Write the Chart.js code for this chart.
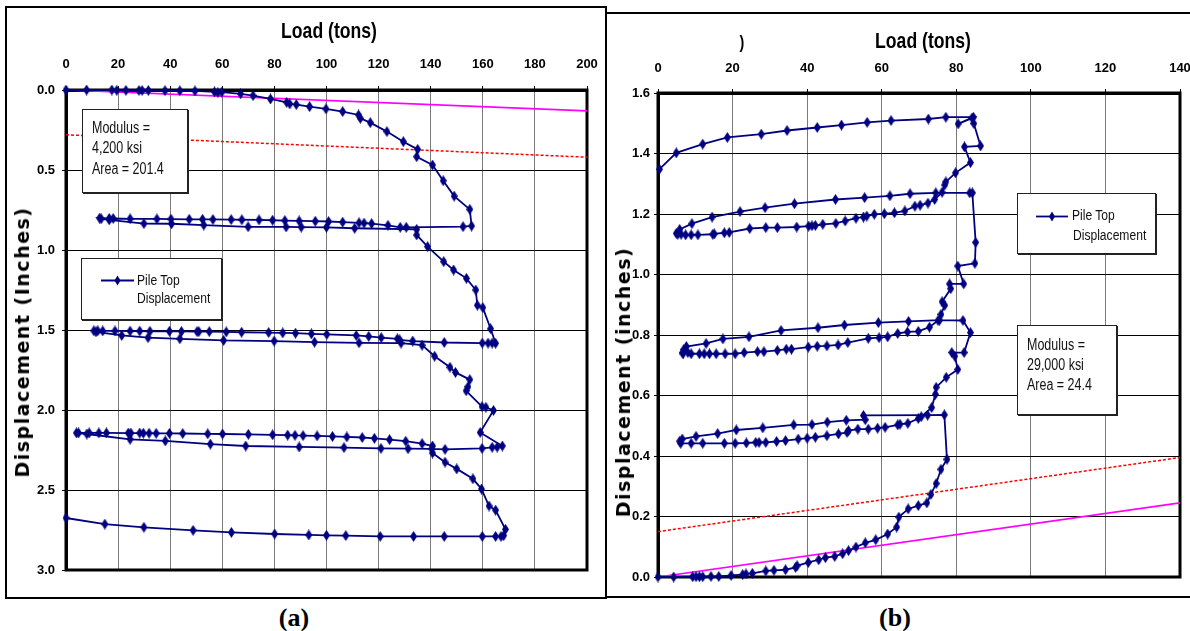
<!DOCTYPE html>
<html>
<head>
<meta charset="utf-8">
<script src="https://cdn.jsdelivr.net/npm/chart.js@4.4.1/dist/chart.umd.min.js"></script>
<style>
  body { margin: 0; background: #fff; width: 1190px; height: 631px; position: relative; overflow: hidden; }
  .frame { position: absolute; border: 2px solid #000; box-sizing: border-box; }
  canvas { position: absolute; }
  .txt { position: absolute; white-space: nowrap; transform: translate(-50%, -50%); color: #000; }
  .title { font-family: 'Liberation Sans', Arial, sans-serif; font-weight: bold; font-size: 22px; transform: translate(-50%, -50%) scaleX(0.8); }
  .ytitle { font-family: 'DejaVu Sans', sans-serif; font-weight: bold; font-size: 19px; letter-spacing: 1.5px; transform: translate(-50%, -50%) rotate(-90deg); }
  .cap { font-family: 'Liberation Serif', 'Times New Roman', serif; font-weight: bold; font-size: 26px; }
  .box { position: absolute; background: #fff; border: 1px solid #222; box-shadow: 1px 1px 0 #222; box-sizing: border-box;
         font-family: 'Liberation Sans', Arial, sans-serif; color: #111; }
  .line { position: absolute; white-space: nowrap; transform: scaleX(0.78); transform-origin: 0 50%; }
</style>
</head>
<body>
<div class="frame" style="left:5px;top:6px;width:602px;height:593px;"></div>
<div class="frame" style="left:605px;top:12px;width:600px;height:586px;"></div>

<canvas id="chartA" width="592" height="545" style="left:8px;top:40px;"></canvas>
<canvas id="chartB" width="578" height="545" style="left:612px;top:40px;"></canvas>

<div class="txt title" style="left:329px;top:31px;">Load (tons)</div>
<div class="txt title" style="left:923px;top:41px;">Load (tons)</div>
<div class="txt title" style="left:742px;top:42px;font-size:18px;">)</div>
<div class="txt ytitle" style="left:22px;top:342px;">Displacement (Inches)</div>
<div class="txt ytitle" style="left:623px;top:382px;">Displacement (inches)</div>
<div class="txt cap" style="left:294px;top:618px;">(a)</div>
<div class="txt cap" style="left:895px;top:618px;">(b)</div>

<!-- panel (a) boxes -->
<div class="box" style="left:82px;top:109px;width:106px;height:84px;font-size:16px;">
  <div class="line" style="left:9px;top:9px;">Modulus =</div>
  <div class="line" style="left:9px;top:29px;">4,200 ksi</div>
  <div class="line" style="left:9px;top:50px;">Area = 201.4</div>
</div>
<div class="box" style="left:81px;top:258px;width:141px;height:62px;font-size:15.5px;">
  <svg style="position:absolute;left:18px;top:16px;" width="36" height="11">
    <line x1="1" y1="5.5" x2="34" y2="5.5" stroke="#000080" stroke-width="1.8"/>
    <polygon points="17.5,0.5 20.5,5.5 17.5,10.5 14.5,5.5" fill="#000080"/>
  </svg>
  <div class="line" style="left:55px;top:12px;">Pile Top</div>
  <div class="line" style="left:55px;top:30px;">Displacement</div>
</div>

<!-- panel (b) boxes -->
<div class="box" style="left:1017px;top:193px;width:139px;height:61px;font-size:15.5px;">
  <svg style="position:absolute;left:17px;top:17px;" width="36" height="11">
    <line x1="1" y1="5.5" x2="33" y2="5.5" stroke="#000080" stroke-width="1.8"/>
    <polygon points="17,0.5 20,5.5 17,10.5 14,5.5" fill="#000080"/>
  </svg>
  <div class="line" style="left:54px;top:12px;">Pile Top</div>
  <div class="line" style="left:55px;top:32px;">Displacement</div>
</div>
<div class="box" style="left:1017px;top:325px;width:100px;height:90px;font-size:16px;">
  <div class="line" style="left:9px;top:10px;">Modulus =</div>
  <div class="line" style="left:9px;top:30px;">29,000 ksi</div>
  <div class="line" style="left:9px;top:50px;">Area = 24.4</div>
</div>

<script>
// ---- panel (a): load (tons) vs displacement (inches), in test order ----
const loadA = [
  0, 7.9, 17.6, 19.5, 23, 28, 29.2, 31.6, 38, 43.7, 49.5, 57, 58.3, 59.8, 67, 71.8, 78.5, 84.7, 85.9, 88.4,
  93.5, 99.8, 106.2, 112.3, 113, 116.8, 123.2, 129.5, 135, 134.6, 140.7, 144.8, 149, 155, 155.7, 152.4,
  130.6, 128.3, 123.6, 117.3, 114.4, 112.5, 106.2, 100.8, 95.7, 89.5, 84, 79.3, 74.1, 67.5, 63.4, 56.4,
  52.4, 47.3, 40.3, 34.9, 24.6, 18.1, 16.6, 12.9,
  13.5, 16.6, 29.9, 40.5, 52.9, 69.9, 84.5, 90.3, 100, 110.8, 134.6,
  134.6, 138.8, 145, 148.8, 153.7, 157.3, 157.9, 160, 163, 164.9,
  163.6, 162, 159.8, 145.2, 133.1, 128.1, 127.2, 121, 116.2, 111.4, 100.1, 94.2, 88.1, 83.2, 77.8, 67.4,
  61.5, 55, 51, 50.3, 44.3, 39.7, 32.2, 28.3, 24.6, 18.8, 14.1, 12.2, 10.7,
  11.5, 21.4, 31.5, 43.7, 60.5, 79.9, 95.4, 112.5, 128.6, 136.7,
  141.5, 147.4, 149.5, 155, 154.3, 153.6, 159.7, 161.2, 164.1, 159, 167.5,
  165.5, 163.6, 159.7, 145.5, 140.4, 131.3, 120.9, 106.7, 89.5, 69, 55.4, 38.1, 24.6, 8, 4,
  4.8, 8.9, 12.6, 15.5, 23.9, 24.9, 28.3, 29.7, 31.9, 34.6, 39.7, 44.8, 54.4, 60.1, 70, 79.3, 85.1, 87.9,
  91, 96.4, 102.3, 107.8, 113.7, 118.4, 124.2, 130.4, 136.7, 140.7,
  140.7, 145.5, 150, 156.2, 159.5, 162.4, 164.9, 168.7, 168, 167, 164.9,
  159.8, 145.2, 133.4, 120.6, 107.4, 100, 93.2, 80.1, 63.5, 48.8, 29.9, 14.9, 0
];
const dispA = [
  0, 0, 0, 0.002, 0.002, 0.003, 0.003, 0.003, 0.004, 0.005, 0.006, 0.012, 0.016, 0.013, 0.024, 0.035, 0.056, 0.077, 0.087, 0.091,
  0.104, 0.118, 0.135, 0.156, 0.177, 0.204, 0.26, 0.323, 0.371, 0.417, 0.469, 0.567, 0.663, 0.746, 0.85, 0.854,
  0.858, 0.858, 0.846, 0.835, 0.832, 0.83, 0.826, 0.822, 0.82, 0.818, 0.816, 0.814, 0.812, 0.811, 0.81, 0.809,
  0.808, 0.808, 0.807, 0.806, 0.805, 0.803, 0.803, 0.801,
  0.805, 0.812, 0.835, 0.836, 0.844, 0.855, 0.856, 0.857, 0.858, 0.864, 0.871,
  0.906, 0.979, 1.073, 1.125, 1.177, 1.25, 1.345, 1.36, 1.492, 1.583,
  1.582, 1.582, 1.582, 1.578, 1.569, 1.562, 1.555, 1.548, 1.54, 1.534, 1.527, 1.524, 1.52, 1.518, 1.516, 1.514,
  1.512, 1.51, 1.51, 1.51, 1.509, 1.508, 1.508, 1.507, 1.507, 1.506, 1.506, 1.505, 1.505,
  1.512, 1.534, 1.548, 1.555, 1.565, 1.569, 1.576, 1.58, 1.582, 1.595,
  1.664, 1.733, 1.765, 1.81, 1.855, 1.88, 1.979, 1.983, 2.003, 2.14, 2.225,
  2.232, 2.233, 2.24, 2.246, 2.243, 2.242, 2.24, 2.235, 2.231, 2.225, 2.213, 2.193, 2.183, 2.15, 2.143,
  2.143, 2.143, 2.143, 2.143, 2.144, 2.144, 2.144, 2.145, 2.145, 2.146, 2.146, 2.147, 2.149, 2.15, 2.152, 2.155, 2.157, 2.158,
  2.16, 2.162, 2.165, 2.168, 2.172, 2.177, 2.185, 2.195, 2.21, 2.225,
  2.269, 2.326, 2.368, 2.43, 2.494, 2.6, 2.626, 2.746, 2.785, 2.79, 2.79,
  2.79, 2.79, 2.79, 2.79, 2.785, 2.783, 2.781, 2.775, 2.765, 2.752, 2.733, 2.713, 2.675
];
// elastic reference lines, panel (a)
const modLineLoadA = [0, 200];
const modLineDispA = [0, 0.13];
const offLineLoadA = [0, 200];
const offLineDispA = [0.28, 0.42];
const loadTicksA = [0, 20, 40, 60, 80, 100, 120, 140, 160, 180, 200];
const dispTicksA = [0, 0.5, 1, 1.5, 2, 2.5, 3];

// ---- panel (b) ----
const loadB = [
  0, 4.2, 9.3, 10.2, 11.1, 12, 14.2, 16.3, 19.6, 22.7, 23.6, 25.3, 28.9, 31.1, 34.2, 36.9, 37.3, 40.3, 43.1, 44.9,
  47.4, 49.5, 51.1, 53.1, 55.6, 58.4, 61.6, 64, 64.6, 67.1, 69.8, 72.1, 73.2, 74.6, 75.9, 77.5, 76.8,
  72.3, 55.1, 55.6, 50.5, 45.4, 41.3, 36.4, 28.1, 21, 16, 10.2, 6.5, 5.8,
  6.1, 8.9, 12, 17.8, 20.7, 23.7, 26.2, 27.1, 28.9, 31.8, 34.2, 37.6, 40, 42.2, 45.3, 48.4, 50.7, 51.1, 53.6,
  56.4, 58.9, 60.9, 64.3, 64.9, 67, 69.8, 70.6, 73.4, 74.4, 74.6, 77.3, 80.4, 79.6, 78.8, 82.1, 83.8, 81.8,
  75.5, 67.2, 59.1, 50, 42.9, 33, 24.4, 17.4, 12.9, 7.6, 6.9,
  6.6, 6.7, 8, 8.9, 11.1, 12.4, 13.8, 15.6, 18, 20.7, 23.1, 26.7, 28.4, 32, 34.4, 35.8, 40.3, 42.7, 45.3, 48.3,
  50.9, 56.4, 59.3, 61.6, 64.3, 66.9, 69.8, 72.8, 75.1, 75.9, 76.9, 76.2, 78.5, 78.2, 82, 80.4, 85, 85.2, 84.3,
  83.6, 74.5, 67.6, 62.2, 55.4, 47.6, 36.6, 28.7, 22, 14.5, 9.1, 5.8, 4.9,
  5.3, 6.2, 7.4, 8.9, 10.7, 14.7, 15.1, 17.8, 19.1, 24.6, 28.9, 32, 37.2, 40.4, 41.3, 42.2, 44.2, 47.7, 50.2,
  53.1, 55.1, 56, 58, 60.7, 63.4, 66.2, 68.9, 70.3, 72.4, 74.2, 76.2, 76.9, 77.2, 79.8, 83.8, 82.2, 86.5, 84.7,
  84.2, 80.5, 84.6,
  77.2, 72.5, 62.5, 56.1, 49.2, 42.7, 34.6, 27.7, 18.6, 12, 4.9, 0.4
];
const dispB = [
  0, 0, 0.001, 0.001, 0.001, 0.001, 0.002, 0.002, 0.005, 0.008, 0.01, 0.012, 0.02, 0.022, 0.024, 0.032, 0.037, 0.048, 0.057, 0.064,
  0.068, 0.077, 0.087, 0.099, 0.113, 0.123, 0.142, 0.165, 0.198, 0.225, 0.236, 0.245, 0.273, 0.309, 0.356, 0.389, 0.536,
  0.535, 0.534, 0.52, 0.518, 0.512, 0.504, 0.503, 0.493, 0.486, 0.474, 0.465, 0.456, 0.449,
  0.442, 0.442, 0.442, 0.442, 0.442, 0.443, 0.445, 0.445, 0.445, 0.448, 0.451, 0.456, 0.459, 0.462, 0.467, 0.473, 0.478, 0.484, 0.489,
  0.489, 0.492, 0.495, 0.503, 0.505, 0.508, 0.524, 0.53, 0.56, 0.604, 0.627, 0.66, 0.686, 0.73, 0.742, 0.742, 0.808, 0.848,
  0.849, 0.845, 0.841, 0.833, 0.824, 0.815, 0.794, 0.787, 0.772, 0.762, 0.752,
  0.742, 0.738, 0.742, 0.738, 0.738, 0.738, 0.738, 0.738, 0.738, 0.738, 0.742, 0.745, 0.745, 0.749, 0.753, 0.753, 0.76, 0.763, 0.764, 0.767,
  0.775, 0.789, 0.791, 0.794, 0.805, 0.81, 0.812, 0.826, 0.848, 0.868, 0.898, 0.91, 0.953, 0.969, 0.969, 1.028, 1.037, 1.106, 1.27,
  1.27, 1.27, 1.267, 1.26, 1.254, 1.248, 1.234, 1.221, 1.208, 1.19, 1.168, 1.149, 1.136,
  1.133, 1.133, 1.131, 1.131, 1.131, 1.133, 1.134, 1.138, 1.139, 1.152, 1.155, 1.155, 1.157, 1.16, 1.161, 1.162, 1.166, 1.169, 1.177,
  1.186, 1.19, 1.193, 1.199, 1.201, 1.204, 1.21, 1.226, 1.229, 1.236, 1.248, 1.272, 1.296, 1.306, 1.336, 1.37, 1.422, 1.425, 1.499,
  1.517, 1.498, 1.52,
  1.52, 1.514, 1.509, 1.503, 1.494, 1.486, 1.476, 1.464, 1.453, 1.431, 1.402, 1.348
];
const modLineLoadB = [0, 140];
const modLineDispB = [0, 0.245];
const offLineLoadB = [0, 140];
const offLineDispB = [0.15, 0.395];
const loadTicksB = [0, 20, 40, 60, 80, 100, 120, 140];
const dispTicksB = [0, 0.2, 0.4, 0.6, 0.8, 1, 1.2, 1.4, 1.6];

const NAVY = '#000080';
const tickFont = { family: "'Liberation Sans', Arial, sans-serif", weight: 'bold', size: 13 };

// tall diamond marker like the Excel one
function diamondMarker() {
  const c = document.createElement('canvas');
  c.width = 7; c.height = 11;
  const g = c.getContext('2d');
  g.fillStyle = NAVY;
  g.beginPath();
  g.moveTo(3.5, 0); g.lineTo(7, 5.5); g.lineTo(3.5, 11); g.lineTo(0, 5.5);
  g.closePath(); g.fill();
  return c;
}
const marker = diamondMarker();

const pairs = (xs, ys) => xs.map((x, i) => ({ x: x, y: ys[i] }));

// heavy frame round the plot area
const plotBorder = {
  id: 'plotBorder',
  beforeDatasetsDraw(chart) {
    const a = chart.chartArea, ctx = chart.ctx;
    ctx.save();
    ctx.strokeStyle = '#000';
    ctx.lineWidth = 3;
    ctx.strokeRect(a.left, a.top, a.right - a.left, a.bottom - a.top);
    ctx.restore();
  }
};

function makePanel(id, o) {
  return new Chart(document.getElementById(id), {
    type: 'line',
    data: {
      datasets: [
        {
          label: 'Pile Top Displacement',
          data: pairs(o.load, o.disp),
          borderColor: NAVY,
          backgroundColor: NAVY,
          borderWidth: 1.8,
          pointStyle: marker,
          pointRadius: 4,
          tension: 0,
          clip: false
        },
        {
          label: 'modulus',
          data: pairs(o.modLoad, o.modDisp),
          borderColor: '#ff00ff',
          borderWidth: 1.7,
          pointRadius: 0
        },
        {
          label: 'offset',
          data: pairs(o.offLoad, o.offDisp),
          borderColor: '#ff0000',
          borderWidth: 1.5,
          borderDash: [3, 2],
          pointRadius: 0
        }
      ]
    },
    options: {
      responsive: false,
      animation: false,
      layout: { padding: { left: 0, top: 0, right: o.padR, bottom: o.padB } },
      plugins: { legend: { display: false }, tooltip: { enabled: false } },
      scales: {
        x: {
          type: 'linear',
          position: 'top',
          min: 0,
          max: o.xMax,
          afterBuildTicks: s => { s.ticks = o.xTicks.map(v => ({ value: v })); },
          afterFit: s => { s.height = o.xH; s.paddingLeft = 0; s.paddingRight = 0; },
          grid: { color: '#7a7a7a', lineWidth: 1, tickLength: 4, tickColor: '#000' },
          border: { color: '#000', width: 3 },
          ticks: {
            color: '#000',
            font: tickFont,
            padding: o.xPad,
            maxRotation: 0,
            autoSkip: false,
            callback: v => String(v)
          }
        },
        y: {
          type: 'linear',
          reverse: o.reverse,
          min: 0,
          max: o.yMax,
          afterBuildTicks: s => { s.ticks = o.yTicks.map(v => ({ value: v })); },
          afterFit: s => { s.width = o.yW; s.paddingTop = 0; s.paddingBottom = 0; },
          grid: { color: '#000', lineWidth: 1, tickLength: 4, tickColor: '#000' },
          border: { color: '#000', width: 3 },
          ticks: {
            color: '#000',
            font: tickFont,
            padding: o.yPad,
            autoSkip: false,
            callback: v => Number(v).toFixed(1)
          }
        }
      }
    },
    plugins: [plotBorder]
  });
}

makePanel('chartA', {
  load: loadA, disp: dispA,
  modLoad: modLineLoadA, modDisp: modLineDispA,
  offLoad: offLineLoadA, offDisp: offLineDispA,
  xTicks: loadTicksA, yTicks: dispTicksA,
  xMax: 200, yMax: 3, reverse: true,
  xH: 50, yW: 58, padR: 13, padB: 15, xPad: 14, yPad: 7
});

makePanel('chartB', {
  load: loadB, disp: dispB,
  modLoad: modLineLoadB, modDisp: modLineDispB,
  offLoad: offLineLoadB, offDisp: offLineDispB,
  xTicks: loadTicksB, yTicks: dispTicksB,
  xMax: 140, yMax: 1.6, reverse: false,
  xH: 53, yW: 46, padR: 10, padB: 8, xPad: 13, yPad: 4
});
</script>
</body>
</html>
